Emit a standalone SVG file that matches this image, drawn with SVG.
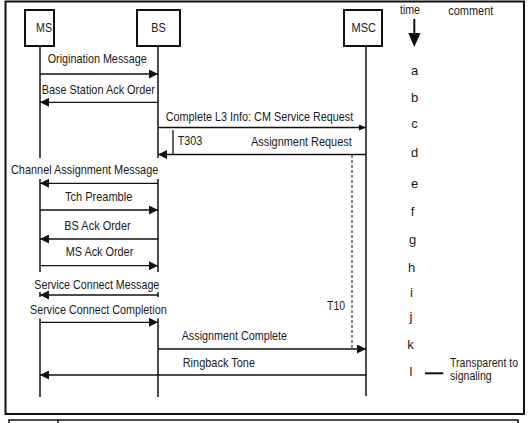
<svg xmlns="http://www.w3.org/2000/svg" width="529" height="423" viewBox="0 0 529 423">
<style>
.t{font-family:"Liberation Sans",Arial,sans-serif;font-size:13.5px;fill:#1a1a1a}
.lt{font-family:"Liberation Sans",Arial,sans-serif;font-size:13px;fill:#1a1a1a;text-anchor:middle}
.c{font-size:12px}
.box{fill:#fff;stroke:#111;stroke-width:2}
.life{stroke:#111;stroke-width:1.5;fill:none}
.msg{stroke:#111;stroke-width:1.3;fill:none;marker-end:url(#ah)}
.msgs{stroke:#111;stroke-width:1.3;fill:none;marker-end:url(#ahs)}
.mask{fill:#fff;stroke:none}
</style>
<defs>
<marker id="ah" markerUnits="userSpaceOnUse" markerWidth="9" markerHeight="9" refX="9" refY="4.5" orient="auto">
<path d="M0,0 L9,4.5 L0,9 z" fill="#111"/>
</marker>
<marker id="ahs" markerUnits="userSpaceOnUse" markerWidth="7" markerHeight="6" refX="7" refY="3" orient="auto">
<path d="M0,0 L7,3 L0,6 z" fill="#111"/>
</marker>
</defs>
<rect x="0" y="0" width="529" height="423" fill="#fff"/>
<rect x="5.5" y="1.5" width="518.5" height="412.5" fill="none" stroke="#111" stroke-width="2"/>
<g id="table">
<rect x="9" y="420" width="509" height="10" fill="none" stroke="#111" stroke-width="1.5"/>
<line x1="58" y1="420" x2="58" y2="423" stroke="#111" stroke-width="1.5"/>
</g>
<g id="node-ms">
<line class="life" x1="40" y1="46" x2="40" y2="397"/>
<rect class="box" x="25" y="10" width="29" height="36"/>
<text class="t" x="36" y="32" textLength="16" lengthAdjust="spacingAndGlyphs">MS</text>
</g>
<g id="node-bs">
<line class="life" x1="158" y1="46" x2="158" y2="397"/>
<rect class="box" x="137" y="10" width="43" height="36"/>
<text class="t" x="151.3" y="32" textLength="14.5" lengthAdjust="spacingAndGlyphs">BS</text>
</g>
<g id="node-msc">
<line class="life" x1="366" y1="46" x2="366" y2="396"/>
<rect class="box" x="344" y="10" width="38" height="36"/>
<text class="t" x="351.5" y="32" textLength="24.5" lengthAdjust="spacingAndGlyphs">MSC</text>
</g>
<g id="masks">
<rect class="mask" x="10" y="158" width="152" height="21"/>
<rect class="mask" x="32" y="272" width="130" height="20"/>
<rect class="mask" x="28" y="297" width="140" height="21.5"/>
</g>
<g id="connectors">
<line class="msg" x1="40" y1="74" x2="158" y2="74"/>
<line class="msg" x1="158" y1="102.3" x2="40" y2="102.3"/>
<line class="msgs" x1="158" y1="127.5" x2="366" y2="127.5"/>
<line stroke="#111" stroke-width="1.3" x1="173" y1="130" x2="173" y2="154"/>
<line class="msg" x1="366" y1="154.5" x2="158" y2="154.5"/>
<line stroke="#111" stroke-width="1" stroke-dasharray="3,2" x1="352" y1="155" x2="352" y2="349"/>
<line class="msg" x1="158" y1="183.3" x2="40" y2="183.3"/>
<line class="msg" x1="40" y1="210" x2="158" y2="210"/>
<line class="msg" x1="158" y1="239" x2="40" y2="239"/>
<line class="msg" x1="40" y1="265.7" x2="158" y2="265.7"/>
<line class="msg" x1="158" y1="295" x2="40" y2="295" stroke-width="1.1"/>
<line class="msg" x1="40" y1="322.3" x2="158" y2="322.3" stroke-width="1.1"/>
<line class="msg" x1="158" y1="349" x2="366" y2="349"/>
<line class="msg" x1="366" y1="375" x2="40" y2="375"/>
</g>
<g id="labels">
<text class="t" x="47.7" y="63" textLength="99" lengthAdjust="spacingAndGlyphs">Origination Message</text>
<text class="t" x="41.7" y="94" textLength="113.3" lengthAdjust="spacingAndGlyphs">Base Station Ack Order</text>
<text class="t" x="165.7" y="120.7" textLength="187.6" lengthAdjust="spacingAndGlyphs">Complete L3 Info: CM Service Request</text>
<text class="t" x="177.7" y="145" textLength="24.6" lengthAdjust="spacingAndGlyphs">T303</text>
<text class="t" x="251" y="145.7" textLength="100.7" lengthAdjust="spacingAndGlyphs">Assignment Request</text>
<text class="t" x="11" y="174.3" textLength="147.3" lengthAdjust="spacingAndGlyphs">Channel Assignment Message</text>
<text class="t" x="65" y="201" textLength="67.3" lengthAdjust="spacingAndGlyphs">Tch Preamble</text>
<text class="t" x="64.3" y="230" textLength="66.4" lengthAdjust="spacingAndGlyphs">BS Ack Order</text>
<text class="t" x="65.7" y="256" textLength="67.6" lengthAdjust="spacingAndGlyphs">MS Ack Order</text>
<text class="t" x="34.3" y="289" textLength="125" lengthAdjust="spacingAndGlyphs">Service Connect Message</text>
<text class="t" x="327" y="310" textLength="18" lengthAdjust="spacingAndGlyphs">T10</text>
<text class="t" x="30" y="314" textLength="136.7" lengthAdjust="spacingAndGlyphs">Service Connect Completion</text>
<text class="t" x="181.7" y="340.3" textLength="105.3" lengthAdjust="spacingAndGlyphs">Assignment Complete</text>
<text class="t" x="182.7" y="367.3" textLength="72.3" lengthAdjust="spacingAndGlyphs">Ringback Tone</text>
</g>
<g id="timeline">
<text class="t" x="400" y="14" textLength="20" lengthAdjust="spacingAndGlyphs">time</text>
<text class="t" x="448.3" y="15" textLength="45" lengthAdjust="spacingAndGlyphs">comment</text>
<line x1="414.3" y1="19" x2="414.3" y2="34" stroke="#111" stroke-width="2"/>
<polygon points="408.3,33 420.5,33 414.3,47" fill="#111"/>
<text class="lt" x="414.5" y="75">a</text>
<text class="lt" x="414.5" y="102">b</text>
<text class="lt" x="414.5" y="128.3">c</text>
<text class="lt" x="414.5" y="157.3">d</text>
<text class="lt" x="414.5" y="188.3">e</text>
<text class="lt" x="412.5" y="216">f</text>
<text class="lt" x="412.5" y="244">g</text>
<text class="lt" x="411.5" y="271.7">h</text>
<text class="lt" x="411.5" y="296.7">i</text>
<text class="lt" x="411" y="321">j</text>
<text class="lt" x="410.5" y="349">k</text>
<text class="lt" x="411" y="375.7">l</text>
<line x1="425" y1="373.3" x2="443.3" y2="373.3" stroke="#111" stroke-width="2"/>
<text class="t c" x="450" y="367" textLength="68" lengthAdjust="spacingAndGlyphs">Transparent to</text>
<text class="t c" x="450" y="380" textLength="41.7" lengthAdjust="spacingAndGlyphs">signaling</text>
</g>
</svg>
